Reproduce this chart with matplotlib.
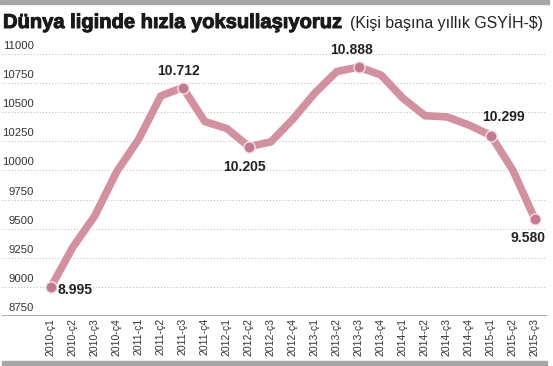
import matplotlib.pyplot as plt
import matplotlib.patheffects as pe
from matplotlib.patches import Rectangle
from matplotlib.transforms import blended_transform_factory, offset_copy

# Kişi başına yıllık GSYİH ($), çeyreklik
quarters = [
    "2010-ç1", "2010-ç2", "2010-ç3", "2010-ç4",
    "2011-ç1", "2011-ç2", "2011-ç3", "2011-ç4",
    "2012-ç1", "2012-ç2", "2012-ç3", "2012-ç4",
    "2013-ç1", "2013-ç2", "2013-ç3", "2013-ç4",
    "2014-ç1", "2014-ç2", "2014-ç3", "2014-ç4",
    "2015-ç1", "2015-ç2", "2015-ç3",
]
gdp = [
    8995, 9340, 9610, 9990,
    10270, 10640, 10712, 10420,
    10360, 10205, 10245, 10440,
    10665, 10850, 10888, 10820,
    10620, 10470, 10460, 10390,
    10299, 10000, 9580,
]
yticks = [8750, 9000, 9250, 9500, 9750, 10000, 10250, 10500, 10750, 11000]

# etiketlenen noktalar
label_idx = [0, 6, 9, 14, 20, 22]
label_txt = ["8.995", "10.712", "10.205", "10.888", "10.299", "9.580"]

# etiket yerleşimi (piksel): dx, dy, ha, va
label_pos = {
    0: (7, -3, "left", "center"),
    6: (-4, 10, "center", "bottom"),
    9: (-4, -13, "center", "top"),
    14: (-7, 10, "center", "bottom"),
    20: (12, 12, "center", "bottom"),
    22: (-7, -12, "center", "top"),
}

W, H = 553, 366
fig = plt.figure(figsize=(W / 100, H / 100), dpi=100)
fig.patch.set_facecolor("white")

# eksen: x 2..547 px, y 54..316 px
ax = fig.add_axes([2 / W, (H - 316) / H, 545 / W, 262 / H])
ax.set_ylim(8750, 11000)
ax.set_xlim(-(50.7 - 2) / 22, 22 + (547 - 535) / 22)
for s in ax.spines.values():
    s.set_visible(False)
ax.set_yticks([])

gray_txt = "#333333"
font_lbl = ["Liberation Sans", "DejaVu Sans"]

for v in yticks:
    if v == 8750:
        ax.axhline(v, color="#a0a0a0", lw=1.2, zorder=1)
    else:
        ax.axhline(v, color="#b4b4b4", lw=0.7, ls=(0, (1, 2.2)), zorder=1)

ytr = blended_transform_factory(ax.transAxes, ax.transData)
for v in yticks:
    ax.text(32 / 545, v, str(v), transform=offset_copy(ytr, fig=fig, y=3, units="dots"),
            ha="right", va="bottom", fontsize=8.2, color=gray_txt, family=font_lbl)

x = list(range(len(gdp)))
ax.plot(x, gdp, color="#d3909e", lw=5.5, solid_joinstyle="round", solid_capstyle="round",
        zorder=3, path_effects=[pe.Stroke(linewidth=7.5, foreground="white"), pe.Normal()])

ax.plot(label_idx, [gdp[i] for i in label_idx], "o", ms=8, color="#c27a91", mec="#f4dde3",
        mew=1, zorder=4, clip_on=False)

for i, txt in zip(label_idx, label_txt):
    dx, dy, ha, va = label_pos[i]
    ax.annotate(txt, (i, gdp[i]), xytext=(dx * 0.72, dy * 0.72), textcoords="offset points",
                ha=ha, va=va, fontsize=10, fontweight="bold", color="#222222",
                family=font_lbl, zorder=5)

ax.set_xticks(x)
ax.set_xticklabels(quarters, rotation=90, fontsize=7.6, color=gray_txt, family=font_lbl)
ax.tick_params(axis="x", length=0, pad=1.2)

# başlık
fig.text(3 / W, 1 - 28 / H, "Dünya liginde hızla yoksullaşıyoruz", ha="left", va="baseline",
         fontsize=14.5, fontweight="bold", color="#1a1a1a", family=font_lbl,
         path_effects=[pe.withStroke(linewidth=0.7, foreground="#1a1a1a")])
fig.text(350 / W, 1 - 28 / H, "(Kişi başına yıllık GSYİH-$)", ha="left", va="baseline",
         fontsize=11.4, color="#222222", family=font_lbl)

# üst ve alt gri bantlar
fig.patches.append(Rectangle((0, 1 - 4 / H), 549 / W, 4 / H, transform=fig.transFigure,
                             color="#a6a6a6", zorder=0))
fig.patches.append(Rectangle((2 / W, 0), 545 / W, 5 / H, transform=fig.transFigure,
                             color="#a6a6a6", zorder=0))

fig.savefig("out.png", dpi=100)
